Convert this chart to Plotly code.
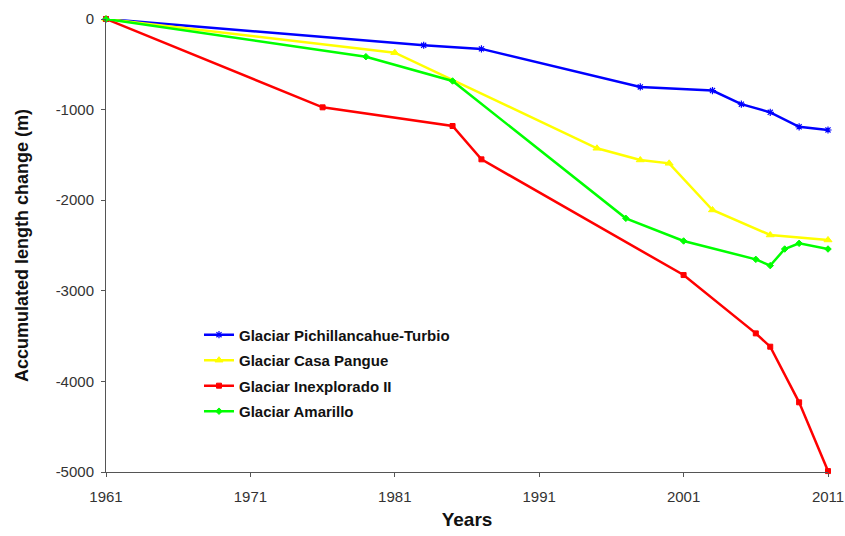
import plotly.graph_objects as go

# ---- data ----
pich_years = [1961, 1983, 1987, 1998, 2003, 2005, 2007, 2009, 2011]
pich_vals = [0, -290, -330, -750, -790, -940, -1030, -1190, -1225]

casa_years = [1961, 1981, 1995, 1998, 2000, 2003, 2007, 2011]
casa_vals = [0, -372, -1427, -1556, -1593, -2108, -2384, -2439]

inex_years = [1961, 1976, 1985, 1987, 2001, 2006, 2007, 2009, 2011]
inex_vals = [0, -975, -1181, -1549, -2826, -3470, -3617, -4231, -4990]

amar_years = [1961, 1979, 1985, 1997, 2001, 2006, 2007, 2008, 2009, 2011]
amar_vals = [0, -416, -684, -2200, -2450, -2653, -2722, -2539, -2476, -2539]

x_ticks = [1961, 1971, 1981, 1991, 2001, 2011]
y_ticks = [0, -1000, -2000, -3000, -4000, -5000]
y_tick_text = ["0", "-1000", "-2000", "-3000", "-4000", "-5000"]

series = [
    ("Glaciar Pichillancahue-Turbio", pich_years, pich_vals, "#0000FF", "asterisk-open", 6, 1.2),
    ("Glaciar Casa Pangue", casa_years, casa_vals, "#FFFF00", "triangle-up", 7, 1),
    ("Glaciar Inexplorado II", inex_years, inex_vals, "#FF0000", "square", 5, 1),
    ("Glaciar Amarillo", amar_years, amar_vals, "#00FF00", "diamond", 5, 1),
]

fig = go.Figure()
for i, (name, xs, ys, col, sym, sz, lw) in enumerate(series):
    fig.add_trace(go.Scatter(
        x=xs, y=ys, name=name, mode="lines+markers",
        line=dict(color=col, width=2.5),
        marker=dict(symbol=sym, size=sz, color=col, line=dict(color=col, width=lw)),
        legendgroup=f"g{i}", cliponaxis=False,
    ))

font_family = "Liberation Sans, Arial, sans-serif"
fig.update_layout(
    width=845, height=536,
    margin=dict(l=106, r=17, t=19, b=64, autoexpand=False),
    paper_bgcolor="white", plot_bgcolor="white",
    font=dict(family=font_family, color="#333333"),
    showlegend=True,
    legend=dict(
        x=0.1288, y=0.339, xanchor="left", yanchor="top",
        bgcolor="rgba(0,0,0,0)", borderwidth=0,
        font=dict(size=15, color="#111111", family=font_family, weight="bold"),
        traceorder="grouped", tracegroupgap=3,
    ),
    xaxis=dict(
        range=[1961, 2011], tickmode="array", tickvals=x_ticks, automargin=False,
        showgrid=False, zeroline=False, showline=True, linecolor="#555555", linewidth=1,
        ticks="outside", ticklen=4, tickcolor="#555555",
        tickfont=dict(size=15, color="#333333"), ticklabelstandoff=7,
        title=dict(text="<b>Years</b>", font=dict(size=19, color="#111111"), standoff=8),
    ),
    yaxis=dict(
        range=[-5000, 0], tickmode="array", tickvals=y_ticks, ticktext=y_tick_text,
        automargin=False,
        showgrid=False, zeroline=False, showline=True, linecolor="#555555", linewidth=1,
        ticks="outside", ticklen=4, tickcolor="#555555",
        tickfont=dict(size=15, color="#333333"), ticklabelstandoff=4,
        title=dict(text="<b>Accumulated length change (m)</b>", font=dict(size=18, color="#111111"), standoff=22),
    ),
)

# remove the page's default body margin so the 845x536 figure fills the window exactly
fig.write_html(
    "out.html",
    config={"displayModeBar": False},
    post_script="document.body.style.margin='0';document.documentElement.style.overflow='hidden';",
)
